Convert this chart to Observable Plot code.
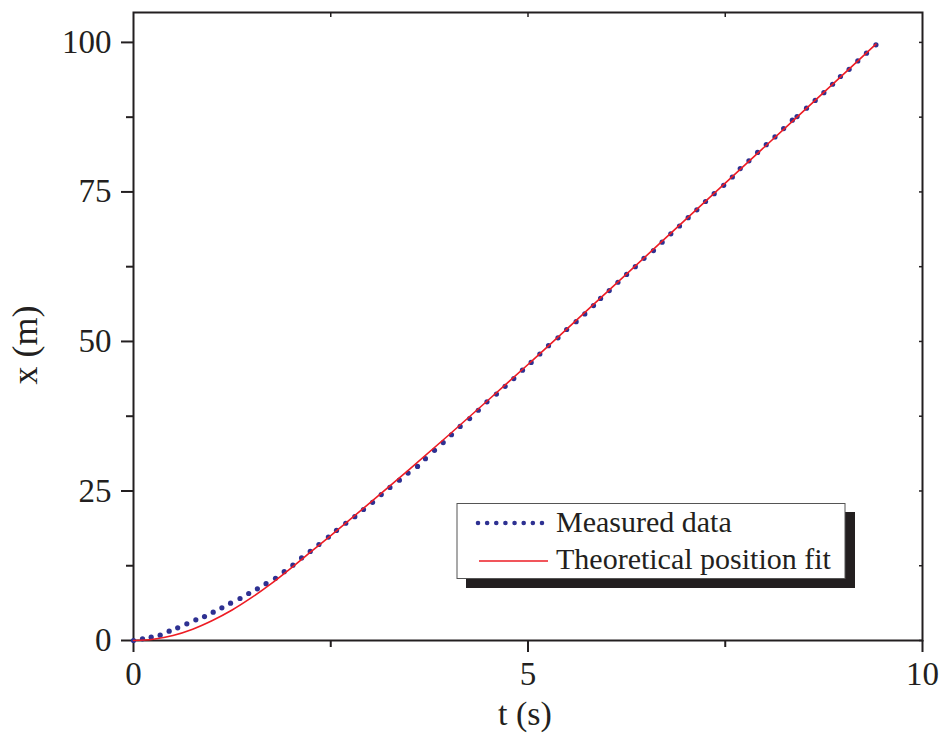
<!DOCTYPE html>
<html><head><meta charset="utf-8">
<script src="https://cdn.jsdelivr.net/npm/d3@7"></script>
<script src="https://cdn.jsdelivr.net/npm/@observablehq/plot@0.6"></script>
<style>
body{margin:0;background:#fff}
#chart{position:relative;width:943px;height:736px}
</style>
</head><body><div id="chart"></div>
<script>
const measuredT = [0,0.114,0.224,0.338,0.452,0.56,0.676,0.79,0.90,1.01,1.12,1.23,1.35,1.46,1.57,1.68,1.80,1.91,2.02,2.13,2.24,2.35,2.47,
  2.573,2.69,2.805,2.915,3.03,3.14,3.25,3.37,3.48,3.60,3.70,3.815,3.925,4.03,4.14,4.26,4.37,4.48,4.60,4.71,4.82,4.93,
  5.04,5.15,5.26,5.38,5.49,5.61,5.72,5.83,5.92,6.03,6.14,6.25,6.36,6.47,6.59,6.70,6.81,6.92,7.03,7.14,7.25,7.36,7.48,
  7.59,7.69,7.80,7.91,8.02,8.13,8.24,8.35,8.41,8.53,8.64,8.75,8.86,8.96,9.07,9.18,9.29,9.41];
const measuredX = [0,0.28,0.56,0.89,1.56,2.12,2.79,3.46,4.0,4.73,5.46,6.24,7.02,7.86,8.64,9.5,10.4,11.5,12.6,13.8,14.9,16.05,17.3,
  18.4,19.6,20.7,21.9,23.1,24.4,25.6,26.8,28.0,29.1,30.4,31.8,33.1,34.4,35.8,37.1,38.5,39.9,41.2,42.5,43.8,45.2,
  46.5,47.9,49.3,50.6,52.0,53.3,54.6,56.0,57.2,58.5,59.9,61.2,62.5,63.9,65.2,66.6,68.0,69.3,70.7,72.0,73.4,74.7,76.1,
  77.5,78.9,80.2,81.6,82.9,84.2,85.6,87.0,87.6,89.0,90.3,91.6,93.0,94.3,95.5,96.9,98.2,99.6];
// Theoretical position fit
const fitT = [0,0.25,0.5,0.75,1,1.25,1.5,1.75,2,2.25,2.5,3,3.5,4,4.5,5,6,7,8,9,9.41];
const fitX = [0,0.22,0.85,1.9,3.35,5.1,7.2,9.55,12.15,14.85,17.55,23.05,28.65,34.4,40.25,46.15,58.25,70.4,82.55,94.7,99.7];

const xTicks = [0,5,10];
const xMinorTicks = [2.5,7.5];
const yTicks = [0,25,50,75,100];
const yMinorTicks = [12.5,37.5,62.5,87.5];
const seriesNames = ["Measured data","Theoretical position fit"];
const xLabel = "t (s)";
const yLabel = "x (m)";

const font = "'Liberation Serif','Times New Roman',serif";
const ink = "#231f20";
const blue = "#2e3192";
const red = "#ed1c24";

const measured = measuredT.map((t,i)=>({t, x: measuredX[i]}));
const fit = fitT.map((t,i)=>({t, x: fitX[i]}));

const blank = () => "";
const plot = Plot.plot({
  width: 943, height: 736,
  marginLeft: 133, marginRight: 21, marginTop: 12, marginBottom: 96,
  style: {fontFamily: font, fontSize: "33px", color: ink, background: "white", overflow: "visible"},
  x: {domain: [0,10], label: null},
  y: {domain: [0,105], label: null},
  marks: [
    Plot.axisX({ticks: xTicks, tickSize: 12, tickPadding: 9, strokeWidth: 2, label: null, tickFormat: d => String(d)}),
    Plot.axisX({ticks: xMinorTicks, tickSize: 7, strokeWidth: 2, label: null, tickFormat: blank}),
    Plot.axisX({ticks: [...xMinorTicks, 5], anchor: "top", tickSize: 4, dy: 4, strokeWidth: 1.5, label: null, tickFormat: blank}),
    Plot.axisY({ticks: yTicks, tickSize: 12, tickPadding: 10, strokeWidth: 2, label: null, tickFormat: d => String(d)}),
    Plot.axisY({ticks: yMinorTicks, tickSize: 7, strokeWidth: 2, label: null, tickFormat: blank}),
    Plot.axisY({ticks: [...yTicks, ...yMinorTicks], anchor: "right", tickSize: 4, dx: -4, strokeWidth: 1.5, label: null, tickFormat: blank}),
    Plot.frame({stroke: ink, strokeWidth: 2}),
    Plot.dot(measured, {x: "t", y: "x", r: 2.6, fill: blue}),
    Plot.line(fit, {x: "t", y: "x", stroke: red, strokeWidth: 1.6, curve: "monotone-x"})
  ]
});
document.getElementById("chart").appendChild(plot);

const svg = d3.select(plot);
// axis titles
svg.append("text").attr("x", 525).attr("y", 725).attr("text-anchor", "middle")
  .attr("font-family", font).attr("font-size", 34).attr("fill", ink).text(xLabel);
svg.append("text").attr("transform", "translate(37,345) rotate(-90)").attr("text-anchor", "middle")
  .attr("font-family", font).attr("font-size", 36).attr("fill", ink).text(yLabel);

// legend
const lg = svg.append("g").attr("text-anchor", "start");
lg.append("rect").attr("x", 466).attr("y", 512).attr("width", 389).attr("height", 76).attr("fill", ink);
lg.append("rect").attr("x", 457).attr("y", 503.5).attr("width", 388).attr("height", 75)
  .attr("fill", "white").attr("stroke", "#555").attr("stroke-width", 1);
lg.append("line").attr("x1", 478).attr("x2", 542.5).attr("y1", 523).attr("y2", 523)
  .attr("stroke", blue).attr("stroke-width", 4.6).attr("stroke-linecap", "round").attr("stroke-dasharray", "0 9.14");
lg.append("line").attr("x1", 479).attr("x2", 548).attr("y1", 561).attr("y2", 561)
  .attr("stroke", red).attr("stroke-width", 1.6);
lg.append("text").attr("x", 556).attr("y", 532).attr("text-anchor", "start").attr("font-family", font).attr("font-size", 30).attr("fill", ink).text(seriesNames[0]);
lg.append("text").attr("x", 556).attr("y", 569).attr("text-anchor", "start").attr("font-family", font).attr("font-size", 30).attr("fill", ink).text(seriesNames[1]);
</script>
</body></html>
